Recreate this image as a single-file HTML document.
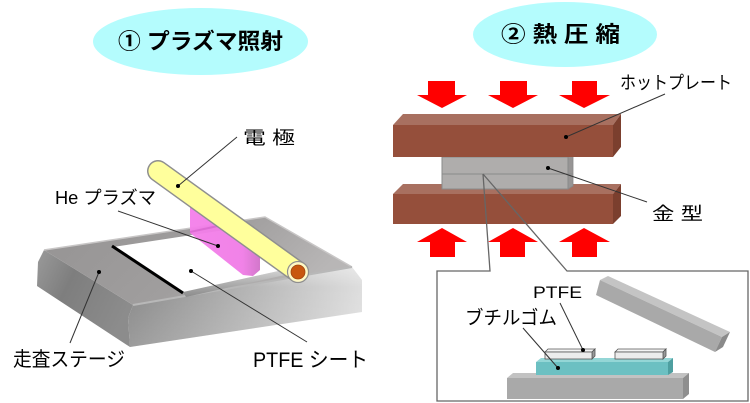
<!DOCTYPE html>
<html><head><meta charset="utf-8">
<style>
html,body{margin:0;padding:0;background:#fff;}
svg{display:block;}
text{font-family:"Liberation Sans","Noto Sans CJK JP",sans-serif;fill:#000;}
</style></head>
<body>
<svg width="750" height="403" viewBox="0 0 750 403" xmlns="http://www.w3.org/2000/svg">
<defs>
<linearGradient id="topg" x1="0" y1="0" x2="1" y2="0.3">
<stop offset="0" stop-color="#959393"/><stop offset="0.6" stop-color="#a09e9e"/><stop offset="1" stop-color="#b8b6b6"/>
</linearGradient>
<linearGradient id="frontg" x1="0" y1="0" x2="1" y2="0">
<stop offset="0" stop-color="#8a8a8a"/><stop offset="0.5" stop-color="#b4b4b4"/><stop offset="1" stop-color="#dedede"/>
</linearGradient>
<linearGradient id="frontv" x1="0" y1="0" x2="0" y2="1">
<stop offset="0" stop-color="#ffffff" stop-opacity="0.35"/><stop offset="0.25" stop-color="#ffffff" stop-opacity="0"/><stop offset="1" stop-color="#ffffff" stop-opacity="0.15"/>
</linearGradient>
<linearGradient id="leftg" x1="0" y1="0" x2="1" y2="0.5">
<stop offset="0" stop-color="#9a9a9a"/><stop offset="0.4" stop-color="#7e7e7e"/><stop offset="1" stop-color="#8c8c8c"/>
</linearGradient>
<linearGradient id="pinkg" x1="0" y1="0" x2="1" y2="0">
<stop offset="0" stop-color="#f47fea"/><stop offset="0.75" stop-color="#f07ce6"/><stop offset="1" stop-color="#d070c8"/>
</linearGradient>
<linearGradient id="edgeg" x1="0" y1="0" x2="0" y2="1">
<stop offset="0" stop-color="#d8d8d8"/><stop offset="1" stop-color="#8a8a8a"/>
</linearGradient>
</defs>

<!-- Title ellipses -->
<ellipse cx="200.5" cy="41.5" rx="107.5" ry="33.5" fill="#b4fcfd"/>
<text x="118" y="49" font-size="22" font-weight="bold" textLength="165" lengthAdjust="spacingAndGlyphs">① プラズマ照射</text>
<ellipse cx="565" cy="34.5" rx="92" ry="32.5" fill="#b4fcfd"/>
<text x="501" y="42" font-size="22" font-weight="bold" textLength="119" lengthAdjust="spacingAndGlyphs">② 熱 圧 縮</text>

<!-- Stage -->
<polygon points="44,250 133,305 128,318 130,347 37,286 38,262" fill="url(#leftg)"/>
<polygon points="133,305 352,267 362,280 362,312 130,347 128,318" fill="url(#frontg)"/>
<polygon points="133,305 352,267 362,280 362,312 130,347 128,318" fill="url(#frontv)"/>
<polygon points="44,250 265,217 352,267 133,305" fill="url(#topg)"/>
<polyline points="44,250 265,217 352,267" fill="none" stroke="#c8c6c6" stroke-width="1.5"/>
<polyline points="133,305 352,267" fill="none" stroke="#b8b8b8" stroke-width="2"/>
<!-- sheet -->
<polygon points="183,292 292,268 294,273 186,297" fill="url(#edgeg)"/>
<polygon points="113,247 238,228 292,268 183,292" fill="#ffffff"/>
<line x1="112" y1="246" x2="183" y2="293" stroke="#000" stroke-width="3"/>
<!-- plasma -->
<polygon points="190,195 190,233 243,275 253,276 260,270 260,240" fill="url(#pinkg)" opacity="0.95"/>
<line x1="190" y1="232" x2="218" y2="226" stroke="#d060c8" stroke-width="2" opacity="0.6"/>
<!-- electrode -->
<line x1="158" y1="171" x2="298" y2="272" stroke="#8f8f8f" stroke-width="22" stroke-linecap="round"/>
<line x1="158" y1="171" x2="298" y2="272" stroke="#ffff9c" stroke-width="19" stroke-linecap="round"/>
<circle cx="298" cy="272" r="10.5" fill="#fff8c4" stroke="#8f8f8f" stroke-width="1.2"/>
<circle cx="298" cy="272" r="7" fill="#c8560f" stroke="#a04510" stroke-width="0.8"/>

<!-- left labels & leaders -->
<g stroke="#333" stroke-width="1" fill="none">
<line x1="237" y1="137" x2="178" y2="186"/>
<line x1="118" y1="211" x2="218" y2="246"/>
<line x1="70" y1="343" x2="99" y2="272"/>
<line x1="307" y1="342" x2="191" y2="271"/>
</g>
<g fill="#000">
<circle cx="178" cy="186" r="2"/>
<circle cx="218" cy="246" r="2"/>
<circle cx="99" cy="272" r="2"/>
<circle cx="191" cy="271" r="2"/>
</g>
<text x="243" y="144" font-size="18" textLength="52" lengthAdjust="spacingAndGlyphs">電 極</text>
<text x="55" y="204" font-size="18" textLength="101" lengthAdjust="spacingAndGlyphs">He プラズマ</text>
<text x="13" y="366" font-size="20" textLength="112" lengthAdjust="spacingAndGlyphs">走査ステージ</text>
<text x="253" y="367" font-size="21" textLength="115" lengthAdjust="spacingAndGlyphs">PTFE シート</text>

<!-- Red arrows down -->
<g fill="#ff0000">
<polygon points="428,81 455,81 455,95 467,95 442,108 417,95 428,95"/>
<polygon points="500,81 527,81 527,95 538,95 513,108 488,95 500,95"/>
<polygon points="572,81 597,81 597,95 610,95 584,108 559,95 572,95"/>
<!-- up -->
<polygon points="430,257 455,257 455,242 467,242 442,228 417,242 430,242"/>
<polygon points="500,257 525,257 525,242 538,242 513,228 488,242 500,242"/>
<polygon points="572,257 597,257 597,242 610,242 584,228 559,242 572,242"/>
</g>

<!-- bottom plate -->
<polygon points="393,194 403,184 621,184 613,194" fill="#a87060"/>
<polygon points="613,194 621,184 621,216 613,224" fill="#7b3f2e"/>
<rect x="393" y="194" width="220" height="30" fill="#954f3b"/>
<!-- mold -->
<polygon points="568,157 573,155 573,186 568,189" fill="#979595" stroke="#888" stroke-width="0.8"/>
<rect x="442" y="157" width="126" height="32" fill="#afadac" stroke="#8a8a8a" stroke-width="1"/>
<line x1="442" y1="174" x2="573" y2="174" stroke="#8a8a8a" stroke-width="1"/>
<!-- top plate -->
<polygon points="393,125 403,114 621,114 613,125" fill="#a87060"/>
<polygon points="613,125 621,114 621,147 613,157" fill="#7b3f2e"/>
<rect x="393" y="125" width="220" height="32" fill="#954f3b"/>

<!-- right leaders -->
<g stroke="#333" stroke-width="1" fill="none">
<line x1="665" y1="94" x2="566" y2="137"/>
<line x1="647" y1="202" x2="548" y2="168"/>
</g>
<circle cx="566" cy="137" r="2" fill="#000"/>
<circle cx="548" cy="168" r="2" fill="#000"/>
<text x="620" y="89" font-size="18" textLength="112" lengthAdjust="spacingAndGlyphs">ホットプレート</text>
<text x="652" y="220" font-size="18" textLength="51" lengthAdjust="spacingAndGlyphs">金 型</text>

<!-- callout box -->
<polyline points="483,174 490,271 437,271 437,401 748,401 748,271 567,271 483,174" fill="none" stroke="#666" stroke-width="1.3"/>

<!-- inset contents -->
<!-- base slab -->
<polygon points="507,378 513,373 689,373 683,378" fill="#c2c2c2"/>
<polygon points="683,378 689,373 689,394 683,399" fill="#8e8e8e"/>
<rect x="507" y="378" width="176" height="21" fill="#a9a9a9"/>
<!-- teal -->
<polygon points="536,362 541,358 673,358 668,362" fill="#94d6d6"/>
<polygon points="668,362 673,358 673,372 668,375" fill="#4e9fa0"/>
<rect x="536" y="362" width="132" height="13" fill="#6cc0c2"/>
<!-- PTFE strips -->
<polygon points="545,352 548,349 595,349 592,352" fill="#f4f4f4" stroke="#555" stroke-width="0.8"/>
<polygon points="592,352 595,349 595,356 592,359" fill="#999" stroke="#555" stroke-width="0.8"/>
<rect x="545" y="352" width="47" height="7" fill="#ececec" stroke="#555" stroke-width="0.8"/>
<polygon points="615,352 618,349 666,349 663,352" fill="#f4f4f4" stroke="#555" stroke-width="0.8"/>
<polygon points="663,352 666,349 666,356 663,359" fill="#999" stroke="#555" stroke-width="0.8"/>
<rect x="615" y="352" width="48" height="7" fill="#ececec" stroke="#555" stroke-width="0.8"/>
<!-- tilted bar -->
<polygon points="600,280 608,276 730,332 722,337" fill="#c4c4c4"/>
<polygon points="600,280 722,337 715,352 596,295" fill="#a9a9a9"/>
<polygon points="722,337 730,332 723,347 715,352" fill="#8a8a8a"/>

<!-- inset leaders -->
<g stroke="#333" stroke-width="1" fill="none">
<line x1="560" y1="303" x2="583" y2="350"/>
<line x1="523" y1="328" x2="558" y2="368"/>
</g>
<circle cx="583" cy="350" r="2" fill="#000"/>
<circle cx="558" cy="368" r="2" fill="#000"/>
<text x="533" y="298" font-size="17" textLength="49" lengthAdjust="spacingAndGlyphs">PTFE</text>
<text x="465" y="324" font-size="19" textLength="92" lengthAdjust="spacingAndGlyphs">ブチルゴム</text>
</svg>
</body></html>
